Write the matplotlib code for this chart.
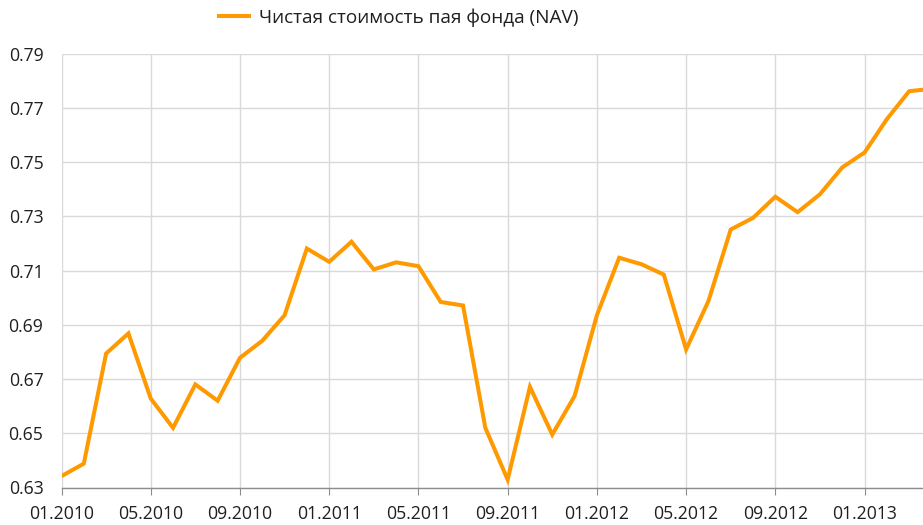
import matplotlib
matplotlib.use("Agg")
import matplotlib.pyplot as plt
import numpy as np

# Data (monthly, starting 01.2010)
months = ["01.2010", "02.2010", "03.2010", "04.2010", "05.2010", "06.2010", "07.2010", "08.2010",
          "09.2010", "10.2010", "11.2010", "12.2010",
          "01.2011", "02.2011", "03.2011", "04.2011", "05.2011", "06.2011", "07.2011", "08.2011",
          "09.2011", "10.2011", "11.2011", "12.2011",
          "01.2012", "02.2012", "03.2012", "04.2012", "05.2012", "06.2012", "07.2012", "08.2012",
          "09.2012", "10.2012", "11.2012", "12.2012",
          "01.2013", "02.2013", "03.2013", "04.2013"]
nav = [0.6342, 0.6388, 0.6794, 0.6868, 0.6628, 0.6520, 0.6680, 0.6620,
       0.6778, 0.6841, 0.6935, 0.7181,
       0.7132, 0.7206, 0.7104, 0.7130, 0.7116, 0.6984, 0.6971, 0.6520,
       0.6329, 0.6671, 0.6495, 0.6637,
       0.6935, 0.7147, 0.7123, 0.7085, 0.6809, 0.6987, 0.7251, 0.7294,
       0.7372, 0.7315, 0.7381, 0.7480,
       0.7535, 0.7658, 0.7761, 0.7770]
series_label = "Чистая стоимость пая фонда (NAV)"
y_ticks = [0.63, 0.65, 0.67, 0.69, 0.71, 0.73, 0.75, 0.77, 0.79]

plt.rcParams['font.family'] = ['Open Sans', 'DejaVu Sans']

fig = plt.figure(figsize=(9.23, 5.25), dpi=100)
ax = fig.add_axes([61.5/923, 1 - 487.5/525, 1 - 61.5/923, (487.5 - 53.5)/525])

x = np.arange(len(nav))
line, = ax.plot(x, nav, color="#FF9900", linewidth=2.9, solid_joinstyle="miter", label=series_label)

ax.set_xlim(0, 38.62)
ax.set_ylim(0.63, 0.79)
tick_idx = list(range(0, len(months), 4))
ax.set_xticks(tick_idx)
ax.set_xticklabels([months[i] for i in tick_idx])
ax.set_yticks(y_ticks)
ax.set_yticklabels([f"{v:.2f}" for v in y_ticks])

ax.grid(True, color="#d9d9d9", linewidth=1.0)
ax.set_axisbelow(True)
for s in ["top", "right", "left"]:
    ax.spines[s].set_visible(False)
ax.spines["bottom"].set_color("#8c8c8c")
ax.spines["bottom"].set_linewidth(1.0)

ax.tick_params(axis="x", length=5, color="#8c8c8c", pad=7.5, labelsize=12.7, labelcolor="#1f1f1f")
ax.tick_params(axis="y", length=0, pad=13, labelsize=12.7, labelcolor="#1f1f1f")
for lbl in ax.get_yticklabels():
    lbl.set_horizontalalignment("right")

fig.legend(handles=[line], loc="center", bbox_to_anchor=(0.432, 0.966), frameon=False,
           fontsize=13.7, handlelength=1.58, handletextpad=0.53, labelcolor="#1f1f1f")

fig.savefig("out.png", dpi=100)
